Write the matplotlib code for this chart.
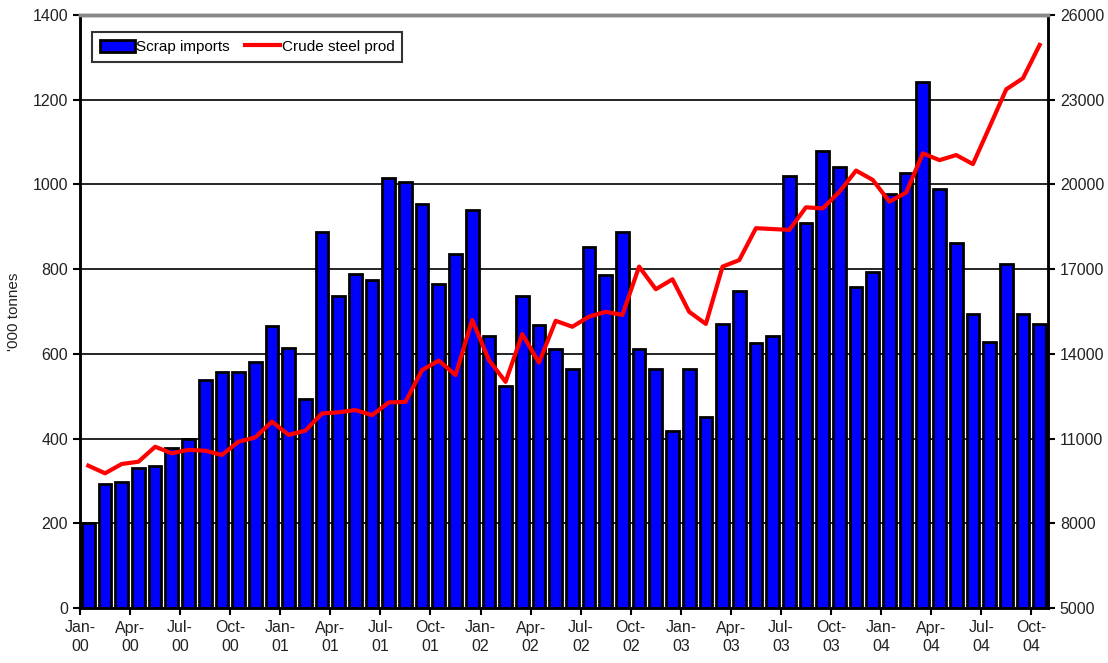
import matplotlib
matplotlib.use("Agg")
import matplotlib.pyplot as plt
import numpy as np

plt.rcParams['font.family'] = ['Liberation Sans', 'DejaVu Sans']

months = ["Jan", "Feb", "Mar", "Apr", "May", "Jun", "Jul", "Aug", "Sep", "Oct", "Nov", "Dec"]
categories = [f"{m}-{y:02d}" for y in range(0, 5) for m in months][:58]

scrap_imports = [200, 292, 297, 330, 335, 377, 400, 538, 556, 556, 581, 666,
                 613, 494, 888, 737, 789, 774, 1014, 1006, 954, 765, 836, 940,
                 642, 523, 737, 669, 612, 565, 853, 787, 888, 612, 565, 419,
                 565, 452, 670, 749, 626, 642, 1020, 910, 1080, 1042, 759, 794,
                 977, 1028, 1241, 990, 862, 693, 628, 811, 693, 670]

crude_steel = [10040, 9770, 10100, 10180, 10710, 10480, 10600, 10570, 10420, 10890, 11040, 11600,
               11130, 11280, 11890, 11930, 12010, 11830, 12280, 12300, 13430, 13760, 13250, 15200,
               13780, 13010, 14700, 13690, 15170, 14960, 15320, 15490, 15380, 17090, 16290, 16640,
               15490, 15060, 17090, 17320, 18450, 18420, 18390, 19190, 19150, 19740, 20490, 20160,
               19390, 19710, 21100, 20860, 21040, 20720, 22040, 23370, 23760, 24940]

tick_idx = list(range(0, 58, 3))
tick_labels = [categories[i].replace("-", "-\n") for i in tick_idx]

fig = plt.figure(figsize=(11.08, 6.63), dpi=100)
ax = fig.add_axes([80/1108, 1-608/663, (1048-80)/1108, (608-15)/663])
ax2 = ax.twinx()

x = np.arange(len(scrap_imports)) + 0.5
bars = ax.bar(x, scrap_imports, width=0.76, color="#0000FF", edgecolor="black",
              linewidth=2, zorder=3, label="Scrap imports")
line, = ax2.plot(x, crude_steel, color="#FF0000", linewidth=3, zorder=4,
                 label="Crude steel prod")

ax.set_xlim(0, 58)
ax.set_ylim(0, 1400)
ax.set_yticks(range(0, 1401, 200))
ax2.set_ylim(5000, 26000)
ax2.set_yticks(range(5000, 26001, 3000))

ax.yaxis.grid(True, color="black", linewidth=1.2, zorder=0)
ax.set_axisbelow(True)
ax.set_xticks(tick_idx)
ax.set_xticklabels(tick_labels, fontsize=11.5, color="#222222", linespacing=1.3)
ax.tick_params(axis="x", direction="out", length=5, width=1.5, pad=4)
ax.tick_params(axis="y", direction="out", length=5, width=1.5, labelsize=11.5, labelcolor="#222222")
ax2.tick_params(axis="y", direction="out", length=5, width=1.5, labelsize=11.5, labelcolor="#222222")

for a in (ax, ax2):
    a.spines["top"].set_color("#888888")
    a.spines["top"].set_linewidth(2.5)
    a.spines["left"].set_linewidth(1.8)
    a.spines["right"].set_linewidth(1.8)
    a.spines["bottom"].set_linewidth(1.8)

ax.set_ylabel("'000 tonnes", fontsize=11, color="#222222", labelpad=8)

leg = ax.legend([bars, line], ["Scrap imports", "Crude steel prod"],
                loc="upper left", bbox_to_anchor=(12/968, 1-17/593), ncol=2,
                frameon=True, fancybox=False, edgecolor="black", fontsize=11,
                handlelength=2.3, handleheight=0.85, handletextpad=0.1, columnspacing=1.0,
                borderpad=0.5, borderaxespad=0)
leg.get_frame().set_linewidth(1.5)
leg.set_zorder(10)

fig.savefig("out.png", dpi=100)
